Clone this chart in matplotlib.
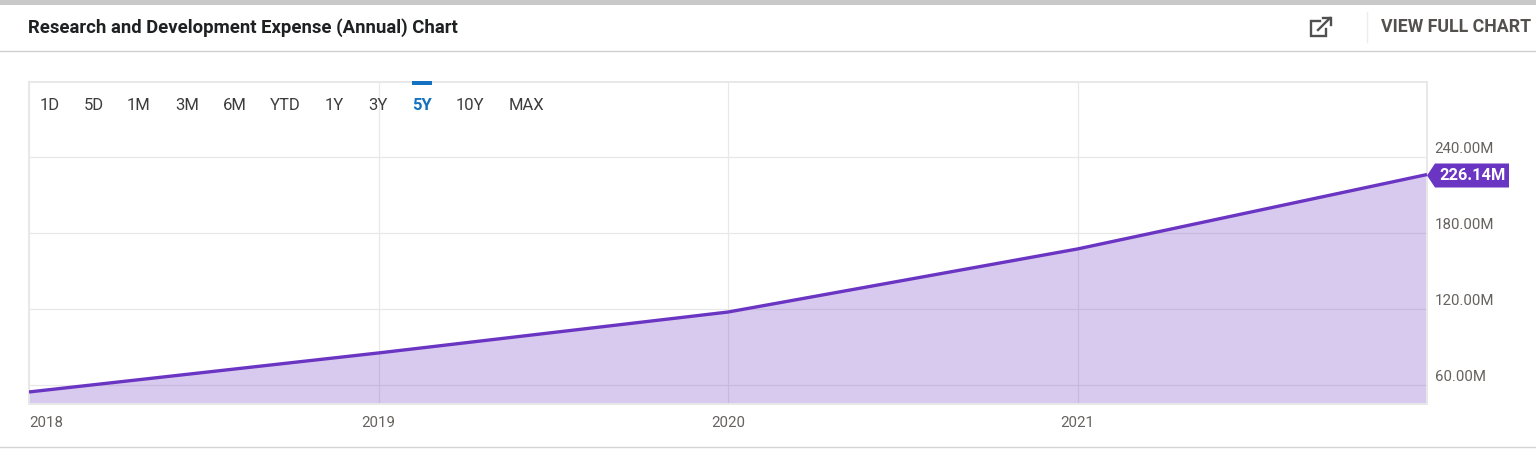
import matplotlib
matplotlib.use("Agg")
import matplotlib.pyplot as plt
from matplotlib.patches import Polygon, Rectangle
from matplotlib.lines import Line2D
from matplotlib.transforms import ScaledTranslation

W, H = 1536, 458
plt.rcParams['font.family'] = ['Roboto', 'DejaVu Sans']

year_pos = [0, 1, 2, 3, 4]
rd_expense_m = [54.5, 85.3, 117.6, 167.4, 226.14]
x_ticks = [0, 1, 2, 3]
x_labels = ['2018', '2019', '2020', '2021']
y_ticks = [60, 120, 180, 240]
y_labels = ['60.00M', '120.00M', '180.00M', '240.00M']
last_label = '226.14M'
title = 'Research and Development Expense (Annual) Chart'
link_text = 'VIEW FULL CHART'
ranges = ['1D', '5D', '1M', '3M', '6M', 'YTD', '1Y', '3Y', '5Y', '10Y', 'MAX']
range_px = [50, 94, 139, 187, 235, 285, 334, 378, 422, 470, 526]
active_range = '5Y'

PURPLE = '#6a35c2'
GRID = '#e8e8e8'
TXT = '#66625f'
BLUE = '#1572c0'

fig = plt.figure(figsize=(W / 100, H / 100), dpi=100, facecolor='white')

# main chart
L, R, T, B = 29, 1427, 82, 404
ax = fig.add_axes([L / W, 1 - B / H, (R - L) / W, (B - T) / H], facecolor='white')
ax.set_xlim(0, 4)
ax.set_ylim(45, 299.2)
ax.grid(True, color=GRID, lw=0.9, zorder=0)
ax.set_axisbelow(True)
ax.fill_between(year_pos, rd_expense_m, 0, color=PURPLE, alpha=0.26, lw=0, zorder=1)
ax.plot(year_pos, rd_expense_m, color=PURPLE, lw=2.4, zorder=3, solid_capstyle='butt')
for s in ax.spines.values():
    s.set_color(GRID)
    s.set_linewidth(1.4)
ax.set_xticks(x_ticks)
ax.set_xticklabels(x_labels)
ax.set_yticks(y_ticks)
ax.set_yticklabels(y_labels)
ax.yaxis.tick_right()
ax.tick_params(axis='both', length=0, labelsize=10.8, labelcolor=TXT)
ax.tick_params(axis='x', pad=8.5)
ax.tick_params(axis='y', pad=5.5)
for t in ax.get_yticklabels():
    t.set_va('center')
    t.set_transform(t.get_transform() + ScaledTranslation(0, 7.5 / 100, fig.dpi_scale_trans))
ax.get_xticklabels()[0].set_ha('left')

# page chrome and overlay texts in pixel coordinates
ov = fig.add_axes([0, 0, 1, 1], zorder=5)
ov.set_xlim(0, W)
ov.set_ylim(H, 0)
ov.axis('off')
ov.add_patch(Rectangle((0, 0), W, 5, fc='#c9c9c9', ec='none'))
ov.add_line(Line2D([0, W], [50.5, 50.5], color='#cfcfcf', lw=1))
ov.add_line(Line2D([0, W], [446.5, 446.5], color='#d4d4d4', lw=1))
ov.add_line(Line2D([1366.5, 1366.5], [12, 42], color='#ececec', lw=1))
ov.text(28, 27.5, title, fontsize=13.3, fontweight='bold', color='#1f2022', va='center', ha='left')
ov.text(1381, 27.5, link_text, fontsize=12.8, fontweight='bold', color='#53504e', va='center', ha='left')
# external-link icon
ov.add_line(Line2D([1320, 1311, 1311, 1326, 1326], [21, 21, 36, 36, 29], color='#505050', lw=1.7, solid_joinstyle='miter'))
ov.add_line(Line2D([1318, 1330], [30, 18], color='#505050', lw=1.7))
ov.add_line(Line2D([1323, 1330.5, 1330.5], [18, 18, 25], color='#505050', lw=1.7, solid_joinstyle='miter'))

# last value badge
yp = 175.5
ov.add_patch(Polygon([(1427, yp), (1435, yp - 12), (1509, yp - 12), (1509, yp + 12), (1435, yp + 12)],
                     closed=True, fc=PURPLE, ec='none', zorder=10))
ov.text(1472.5, yp, last_label, color='white', fontsize=11.8, fontweight='bold', ha='center', va='center', zorder=11)

# range selector
for lab, px in zip(ranges, range_px):
    active = lab == active_range
    ov.text(px, 106, lab, ha='center', va='center', fontsize=12,
            color=BLUE if active else '#3d3d3d', fontweight='bold' if active else 'normal')
ov.add_patch(Rectangle((412, 81), 20, 4, fc=BLUE, ec='none'))

fig.savefig('out.png', dpi=100)
